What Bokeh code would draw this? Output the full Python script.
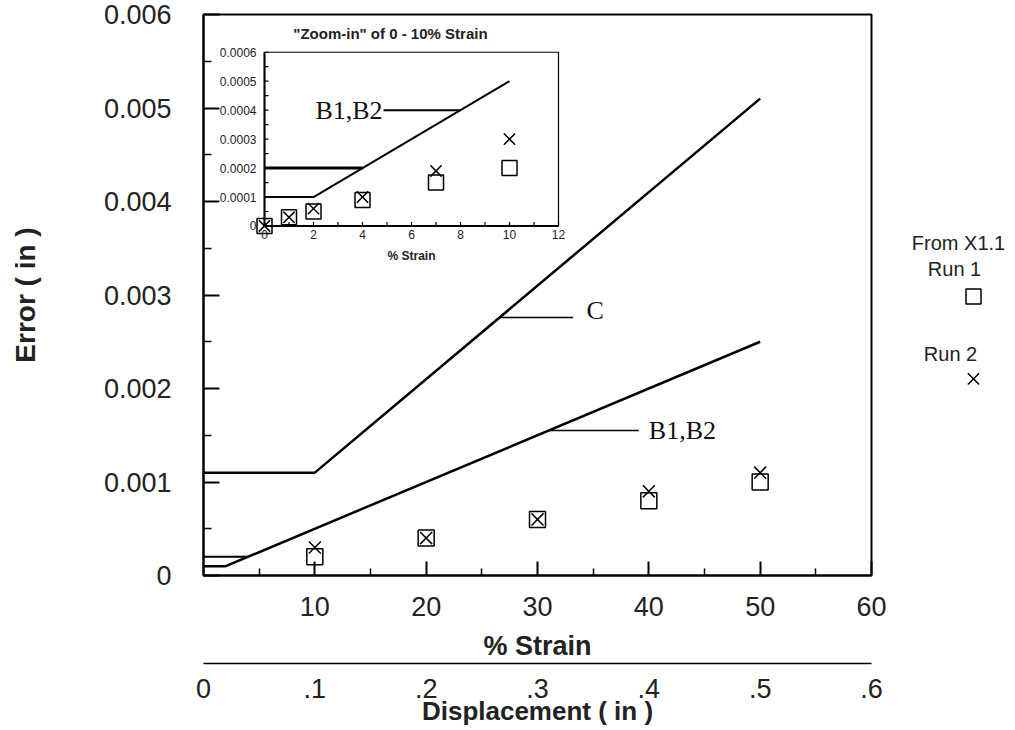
from bokeh.plotting import figure
from bokeh.models import Range1d, LinearAxis, FixedTicker, CustomJSTickFormatter
from bokeh.layouts import row
from bokeh.core.properties import value
from bokeh.embed import file_html
from bokeh.resources import INLINE

# ---------------- data ----------------
strain_run = [10, 20, 30, 40, 50]
run1_error = [0.0002, 0.0004, 0.0006, 0.0008, 0.0010]
run2_error = [0.0003, 0.0004, 0.0006, 0.0009, 0.0011]

zoom_strain = [0, 1, 2, 4, 7, 10]
zoom_run1 = [0.0, 0.00003, 0.00005, 0.00009, 0.00015, 0.0002]
zoom_run2 = [0.0, 0.00003, 0.00006, 0.0001, 0.00019, 0.0003]

c_strain = [0, 10, 50]
c_error = [0.0011, 0.0011, 0.0051]
b_strain = [0, 2, 50]
b_error = [0.0001, 0.0001, 0.0025]
b_flat_strain = [0, 4]
b_flat_error = [0.0002, 0.0002]
zoom_b_strain = [0, 2, 10]
zoom_b_error = [0.0001, 0.0001, 0.0005]

strain_ticks = [10, 20, 30, 40, 50, 60]
strain_minor = [5, 15, 25, 35, 45, 55]
error_ticks = [0, 0.001, 0.002, 0.003, 0.004, 0.005, 0.006]
error_labels = ["0", "0.001", "0.002", "0.003", "0.004", "0.005", "0.006"]
error_minor = [0.0005, 0.0015, 0.0025, 0.0035, 0.0045, 0.0055]
disp_ticks = [0, 0.1, 0.2, 0.3, 0.4, 0.5, 0.6]
disp_labels = ["0", ".1", ".2", ".3", ".4", ".5", ".6"]

zoom_x_ticks = [0, 2, 4, 6, 8, 10, 12]
zoom_x_labels = ["0", "2", "4", "6", "8", "10", "12"]
zoom_x_minor = [0, 1, 2, 3, 4, 5, 6, 7, 8, 9, 10, 11, 12]
zoom_y_ticks = [0, 0.0001, 0.0002, 0.0003, 0.0004, 0.0005, 0.0006]
zoom_y_labels = ["0", "0.0001", "0.0002", "0.0003", "0.0004", "0.0005", "0.0006"]
zoom_y_minor = [0, 0.00005, 0.0001, 0.00015, 0.0002, 0.00025, 0.0003,
                0.00035, 0.0004, 0.00045, 0.0005, 0.00055, 0.0006]

legend_texts = ["From X1.1", "Run 1", "Run 2"]

# ---------------- layout constants (pixels) ----------------
W_MAIN, H = 890, 728
FL, FR, FT, FB = 203, 871, 14, 579          # main frame on canvas
IL, IR, IT, IB = 264, 558, 52, 227          # inset frame on canvas
IX0, IX1, IY0, IY1 = 0, 12, 0, 0.0006       # inset data extents

SANS = value("Liberation Sans")
SERIF = value("Liberation Serif")
INK = "#222222"

def lookup_formatter(ticks, labels):
    return CustomJSTickFormatter(args=dict(tv=ticks, tl=labels), code="""
        for (let i = 0; i < tv.length; i++) {
            if (Math.abs(tv[i] - tick) < 1e-9) { return tl[i]; }
        }
        return "";
    """)

p = figure(width=W_MAIN, height=H, x_range=Range1d(0, 60), y_range=Range1d(0, 0.006),
           output_backend="svg", toolbar_location=None,
           min_border_left=FL, min_border_right=W_MAIN - FR,
           min_border_top=FT, min_border_bottom=H - FB)
p.grid.visible = False
p.outline_line_color = "black"
p.outline_line_width = 2
p.background_fill_color = "white"
p.border_fill_color = "white"

# inset ranges mapped onto the main frame
ux = (IX1 - IX0) / (IR - IL)
uy = (IY1 - IY0) / (IB - IT)
p.extra_x_ranges = {
    "disp": Range1d(0, 0.6),
    "ix": Range1d(IX0 - (IL - FL) * ux, IX1 + (FR - IR) * ux),
}
p.extra_y_ranges = {"iy": Range1d(IY0 - (FB - IB) * uy, IY1 + (IT - FT) * uy)}

# y axis
yax = p.yaxis[0]
yax.ticker = FixedTicker(ticks=error_ticks, minor_ticks=error_minor)
yax.formatter = lookup_formatter(error_ticks, error_labels)
yax.major_tick_in = 16
yax.major_tick_out = 0
yax.minor_tick_in = 8
yax.minor_tick_out = 0
yax.major_tick_line_width = 2
yax.minor_tick_line_width = 1.5
yax.axis_line_width = 2
yax.major_label_standoff = 32
yax.major_label_text_font = "Liberation Sans"
yax.major_label_text_font_size = "27px"
yax.major_label_text_color = INK
yax.axis_label = "Error ( in )"
yax.axis_label_standoff = 60
yax.axis_label_text_font = "Liberation Sans"
yax.axis_label_text_font_size = "28px"
yax.axis_label_text_font_style = "bold"
yax.axis_label_text_color = INK

# x axis (% strain)
xax = p.xaxis[0]
xax.ticker = FixedTicker(ticks=strain_ticks, minor_ticks=strain_minor)
xax.major_tick_in = 14
xax.major_tick_out = 0
xax.minor_tick_in = 7
xax.minor_tick_out = 0
xax.major_tick_line_width = 2
xax.minor_tick_line_width = 1.5
xax.axis_line_width = 2
xax.major_label_standoff = 21
xax.major_label_text_font = "Liberation Sans"
xax.major_label_text_font_size = "27px"
xax.major_label_text_color = INK
xax.axis_label = "% Strain"
xax.axis_label_standoff = 12
xax.axis_label_text_font = "Liberation Sans"
xax.axis_label_text_font_size = "27px"
xax.axis_label_text_font_style = "bold"
xax.axis_label_text_color = INK

# second x axis (displacement)
dax = LinearAxis(x_range_name="disp",
                 ticker=FixedTicker(ticks=disp_ticks, minor_ticks=[]),
                 formatter=lookup_formatter(disp_ticks, disp_labels))
dax.major_tick_in = 0
dax.major_tick_out = 0
dax.minor_tick_in = 0
dax.minor_tick_out = 0
dax.axis_line_width = 1.5
dax.major_label_standoff = 15
dax.major_label_text_font = "Liberation Sans"
dax.major_label_text_font_size = "27px"
dax.major_label_text_color = INK
dax.axis_label = "Displacement ( in )"
dax.axis_label_standoff = -5
dax.axis_label_text_font = "Liberation Sans"
dax.axis_label_text_font_size = "26px"
dax.axis_label_text_font_style = "bold"
dax.axis_label_text_color = INK
p.add_layout(dax, "below")

# ---------------- main curves ----------------
p.line(c_strain, c_error, line_color="black", line_width=2.5)
p.line(b_strain, b_error, line_color="black", line_width=2.5)
p.line(b_flat_strain, b_flat_error, line_color="black", line_width=2)

p.scatter(strain_run, run1_error, marker="square", size=16, fill_color=None,
          line_color="black", line_width=1.5)
p.scatter(strain_run, run2_error, marker="x", size=17,
          line_color="black", line_width=1.5)

# annotation leaders
p.segment(x0=[26.6], y0=[0.00276], x1=[33.2], y1=[0.00276], line_color="black", line_width=1.5)
p.text(x=[34.4], y=[0.00276], text=["C"], y_offset=-7, text_align="left",
       text_baseline="middle", text_font=SERIF, text_font_size="26px", text_color="#111111")
p.segment(x0=[31.0], y0=[0.00155], x1=[39.1], y1=[0.00155], line_color="black", line_width=1.5)
p.text(x=[40.0], y=[0.00155], text=["B1,B2"], text_align="left",
       text_baseline="middle", text_font=SERIF, text_font_size="26px", text_color="#111111")

# ---------------- inset ----------------
R = dict(x_range_name="ix", y_range_name="iy")
p.quad(left=[IX0], right=[IX1], bottom=[IY0], top=[IY1], fill_color="white",
       line_color="black", line_width=1.2, **R)
p.segment(x0=[IX0, IX0], y0=[IY0, IY0], x1=[IX0, IX1], y1=[IY1, IY0],
          line_color="black", line_width=2, **R)

tx = 4 * ux
ty = 4 * uy
p.segment(x0=[IX0] * len(zoom_y_minor), y0=zoom_y_minor,
          x1=[IX0 + tx] * len(zoom_y_minor), y1=zoom_y_minor,
          line_color="black", line_width=1.2, **R)
p.segment(x0=zoom_x_minor, y0=[IY0] * len(zoom_x_minor),
          x1=zoom_x_minor, y1=[IY0 + ty] * len(zoom_x_minor),
          line_color="black", line_width=1.2, **R)

p.text(x=[IX0] * len(zoom_y_ticks), y=zoom_y_ticks, text=zoom_y_labels, x_offset=-8,
       text_align="right", text_baseline="middle", text_font=SANS,
       text_font_size="12px", text_color=INK, **R)
p.text(x=zoom_x_ticks, y=[IY0] * len(zoom_x_ticks), text=zoom_x_labels, y_offset=4,
       text_align="center", text_baseline="top", text_font=SANS,
       text_font_size="12px", text_color=INK, **R)
p.text(x=[6], y=[IY0], text=["% Strain"], y_offset=23, text_align="center",
       text_baseline="top", text_font=SANS, text_font_size="12px",
       text_font_style="bold", text_color=INK, **R)
p.text(x=[5.14], y=[0.000665], text=['"Zoom-in" of 0 - 10% Strain'], text_align="center",
       text_baseline="middle", text_font=SANS, text_font_size="15px",
       text_font_style="bold", text_color=INK, **R)

p.line(zoom_b_strain, zoom_b_error, line_color="black", line_width=2, **R)
p.line(b_flat_strain, b_flat_error, line_color="black", line_width=3, **R)

p.scatter(zoom_strain, zoom_run1, marker="square", size=15, fill_color=None,
          line_color="black", line_width=1.5, **R)
p.scatter(zoom_strain, zoom_run2, marker="x", size=16,
          line_color="black", line_width=1.5, **R)

p.segment(x0=[4.86], y0=[0.0004], x1=[8.0], y1=[0.0004], line_color="black", line_width=2, **R)
p.text(x=[4.86], y=[0.0004], text=["B1,B2"], x_offset=-1, text_align="right",
       text_baseline="middle", text_font=SERIF, text_font_size="26px",
       text_color="#111111", **R)

# ---------------- legend panel ----------------
LW = 121
leg = figure(width=LW, height=H, x_range=Range1d(0, LW), y_range=Range1d(FB, FT),
             output_backend="svg", toolbar_location=None,
             min_border_left=0, min_border_right=0,
             min_border_top=FT, min_border_bottom=H - FB,
             x_axis_type=None, y_axis_type=None)
leg.grid.visible = False
leg.outline_line_color = None

leg.text(x=[68, 64, 60], y=[244, 270, 356], text=legend_texts,
         text_align="center", text_baseline="middle", text_font=SANS,
         text_font_size="20px", text_color=INK)
leg.scatter([83], [298], marker="square", size=15, fill_color=None,
            line_color="black", line_width=1.5)
leg.scatter([83], [381], marker="x", size=16, line_color="black", line_width=1.5)

layout = row(p, leg)
open("out.html", "w").write(file_html(layout, INLINE))
